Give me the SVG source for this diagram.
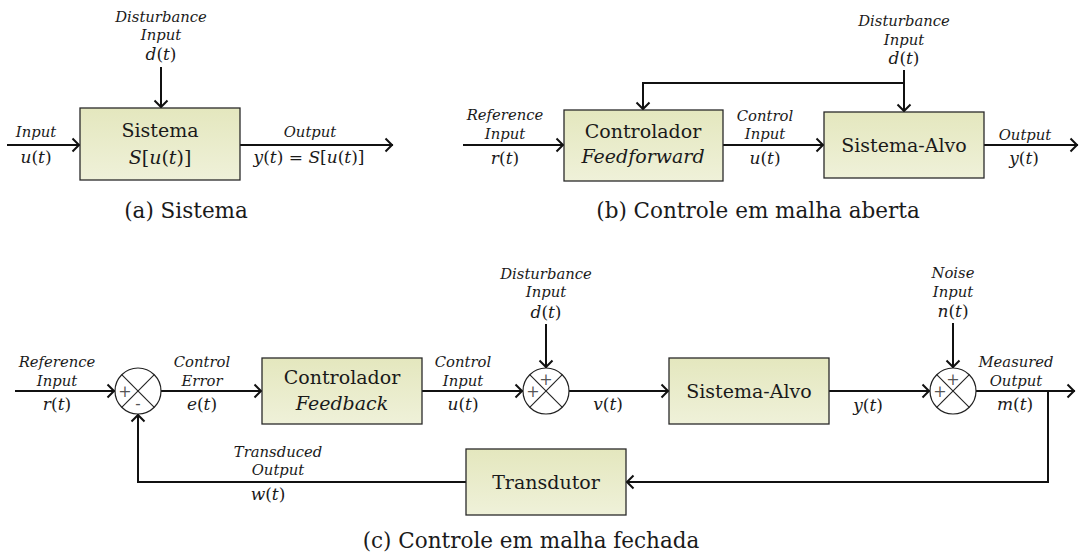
<svg xmlns="http://www.w3.org/2000/svg" width="1079" height="559" viewBox="0 0 1079 559">
<defs>
<linearGradient id="bf" x1="0" y1="0" x2="0" y2="1">
<stop offset="0" stop-color="#e4e7be"/>
<stop offset="1" stop-color="#eff1d9"/>
</linearGradient>
<marker id="ah" markerUnits="userSpaceOnUse" markerWidth="20" markerHeight="20" viewBox="-10 -10 20 20" refX="0" refY="0" orient="auto" overflow="visible">
<path d="M-7.5,-6.5 L-1,0 L-7.5,6.5" fill="none" stroke="#111" stroke-width="2"/>
</marker>
<style>
text{font-family:"DejaVu Serif",serif;fill:#1a1a1a;text-anchor:middle}
.box{fill:url(#bf);stroke:#2a2a2a;stroke-width:1.3}
.bt{font-size:19px}
.bi{font-size:19px;font-style:italic}
.lbl{font-size:14.8px;font-style:italic}
.m{font-size:17px}
.i{font-style:italic}
.cap{font-size:21.5px}
.w{fill:none;stroke:#111;stroke-width:2}
.a{marker-end:url(#ah)}
.sum{fill:#fff;stroke:#222;stroke-width:1.2}
.x{stroke:#222;stroke-width:1.1}
.sg{font-size:16px;fill:#555}
</style>
</defs>

<!-- connectors -->
<g id="connectors">
<!-- (a) -->
<line class="w a" x1="7" y1="145" x2="80" y2="145"/>
<line class="w a" x1="161" y1="67" x2="161" y2="108"/>
<line class="w a" x1="240" y1="145" x2="393" y2="145"/>
<!-- (b) -->
<line class="w a" x1="463" y1="145" x2="564" y2="145"/>
<line class="w a" x1="723" y1="145" x2="824" y2="145"/>
<line class="w a" x1="984" y1="145" x2="1078" y2="145"/>
<polyline class="w a" points="904,83 643,83 643,110"/>
<line class="w a" x1="904" y1="70" x2="904" y2="112"/>
<!-- (c) -->
<line class="w a" x1="15" y1="391" x2="115" y2="391"/>
<line class="w a" x1="161" y1="391" x2="262" y2="391"/>
<line class="w a" x1="422" y1="391" x2="523" y2="391"/>
<line class="w a" x1="546" y1="324" x2="546" y2="368"/>
<line class="w a" x1="569" y1="391" x2="669" y2="391"/>
<line class="w a" x1="829" y1="391" x2="930" y2="391"/>
<line class="w a" x1="953" y1="323" x2="953" y2="368"/>
<line class="w a" x1="976" y1="391" x2="1075" y2="391"/>
<polyline class="w a" points="1048,391 1048,482 626,482"/>
<polyline class="w a" points="466,482 138,482 138,414"/>
</g>

<!-- (a) Sistema -->
<g id="sistema-a">
<rect class="box" x="80" y="108" width="160" height="72"/>
<text class="bt" x="160" y="137">Sistema</text>
<text class="bt" x="160" y="164"><tspan class="i">S</tspan>[<tspan class="i">u</tspan>(<tspan class="i">t</tspan>)]</text>
</g>
<g id="labels-a">
<text class="lbl" x="161" y="22">Disturbance</text>
<text class="lbl" x="161" y="40">Input</text>
<text class="m" x="161" y="60"><tspan class="i">d</tspan>(<tspan class="i">t</tspan>)</text>
<text class="lbl" x="36" y="137">Input</text>
<text class="m" x="36" y="163"><tspan class="i">u</tspan>(<tspan class="i">t</tspan>)</text>
<text class="lbl" x="310" y="137">Output</text>
<text class="m" x="309" y="163"><tspan class="i">y</tspan>(<tspan class="i">t</tspan>) = <tspan class="i">S</tspan>[<tspan class="i">u</tspan>(<tspan class="i">t</tspan>)]</text>
<text class="cap" x="186" y="218">(a) Sistema</text>
</g>

<!-- (b) open loop -->
<g id="controlador-ff">
<rect class="box" x="564" y="110" width="159" height="71"/>
<text class="bt" x="643" y="138">Controlador</text>
<text class="bi" x="643" y="163">Feedforward</text>
</g>
<g id="sistema-alvo-b">
<rect class="box" x="824" y="112" width="160" height="66"/>
<text class="bt" x="904" y="152">Sistema-Alvo</text>
</g>
<g id="labels-b">
<text class="lbl" x="505" y="120">Reference</text>
<text class="lbl" x="505" y="139">Input</text>
<text class="m" x="505" y="164"><tspan class="i">r</tspan>(<tspan class="i">t</tspan>)</text>
<text class="lbl" x="765" y="121">Control</text>
<text class="lbl" x="765" y="139">Input</text>
<text class="m" x="765" y="164"><tspan class="i">u</tspan>(<tspan class="i">t</tspan>)</text>
<text class="lbl" x="904" y="26">Disturbance</text>
<text class="lbl" x="904" y="45">Input</text>
<text class="m" x="904" y="64"><tspan class="i">d</tspan>(<tspan class="i">t</tspan>)</text>
<text class="lbl" x="1025" y="140">Output</text>
<text class="m" x="1024" y="164"><tspan class="i">y</tspan>(<tspan class="i">t</tspan>)</text>
<text class="cap" x="758" y="218">(b) Controle em malha aberta</text>
</g>

<!-- (c) closed loop -->
<g id="sum1">
<circle class="sum" cx="138" cy="391" r="23"/>
<line class="x" x1="121.7" y1="374.7" x2="154.3" y2="407.3"/>
<line class="x" x1="154.3" y1="374.7" x2="121.7" y2="407.3"/>
<text class="sg" x="125" y="397">+</text>
<text class="sg" x="138" y="409">-</text>
</g>
<g id="controlador-fb">
<rect class="box" x="262" y="358" width="160" height="66"/>
<text class="bt" x="342" y="384">Controlador</text>
<text class="bi" x="342" y="410">Feedback</text>
</g>
<g id="sum2">
<circle class="sum" cx="546" cy="391" r="23"/>
<line class="x" x1="529.7" y1="374.7" x2="562.3" y2="407.3"/>
<line class="x" x1="562.3" y1="374.7" x2="529.7" y2="407.3"/>
<text class="sg" x="533" y="397">+</text>
<text class="sg" x="546" y="385">+</text>
</g>
<g id="sistema-alvo-c">
<rect class="box" x="669" y="358" width="160" height="66"/>
<text class="bt" x="749" y="398">Sistema-Alvo</text>
</g>
<g id="sum3">
<circle class="sum" cx="953" cy="391" r="23"/>
<line class="x" x1="936.7" y1="374.7" x2="969.3" y2="407.3"/>
<line class="x" x1="969.3" y1="374.7" x2="936.7" y2="407.3"/>
<text class="sg" x="940" y="397">+</text>
<text class="sg" x="953" y="385">+</text>
</g>
<g id="transdutor">
<rect class="box" x="466" y="449" width="160" height="66"/>
<text class="bt" x="546" y="489">Transdutor</text>
</g>
<g id="labels-c">
<text class="lbl" x="57" y="367">Reference</text>
<text class="lbl" x="57" y="386">Input</text>
<text class="m" x="57" y="410"><tspan class="i">r</tspan>(<tspan class="i">t</tspan>)</text>
<text class="lbl" x="202" y="367">Control</text>
<text class="lbl" x="202" y="386">Error</text>
<text class="m" x="202" y="410"><tspan class="i">e</tspan>(<tspan class="i">t</tspan>)</text>
<text class="lbl" x="463" y="367">Control</text>
<text class="lbl" x="463" y="386">Input</text>
<text class="m" x="463" y="410"><tspan class="i">u</tspan>(<tspan class="i">t</tspan>)</text>
<text class="lbl" x="546" y="279">Disturbance</text>
<text class="lbl" x="546" y="297">Input</text>
<text class="m" x="546" y="318"><tspan class="i">d</tspan>(<tspan class="i">t</tspan>)</text>
<text class="m" x="608" y="410"><tspan class="i">v</tspan>(<tspan class="i">t</tspan>)</text>
<text class="m" x="868" y="411"><tspan class="i">y</tspan>(<tspan class="i">t</tspan>)</text>
<text class="lbl" x="953" y="278">Noise</text>
<text class="lbl" x="953" y="297">Input</text>
<text class="m" x="953" y="317"><tspan class="i">n</tspan>(<tspan class="i">t</tspan>)</text>
<text class="lbl" x="1016" y="367">Measured</text>
<text class="lbl" x="1016" y="386">Output</text>
<text class="m" x="1015" y="410"><tspan class="i">m</tspan>(<tspan class="i">t</tspan>)</text>
<text class="lbl" x="278" y="457">Transduced</text>
<text class="lbl" x="278" y="475">Output</text>
<text class="m" x="268" y="500"><tspan class="i">w</tspan>(<tspan class="i">t</tspan>)</text>
<text class="cap" x="531" y="548">(c) Controle em malha fechada</text>
</g>
</svg>
